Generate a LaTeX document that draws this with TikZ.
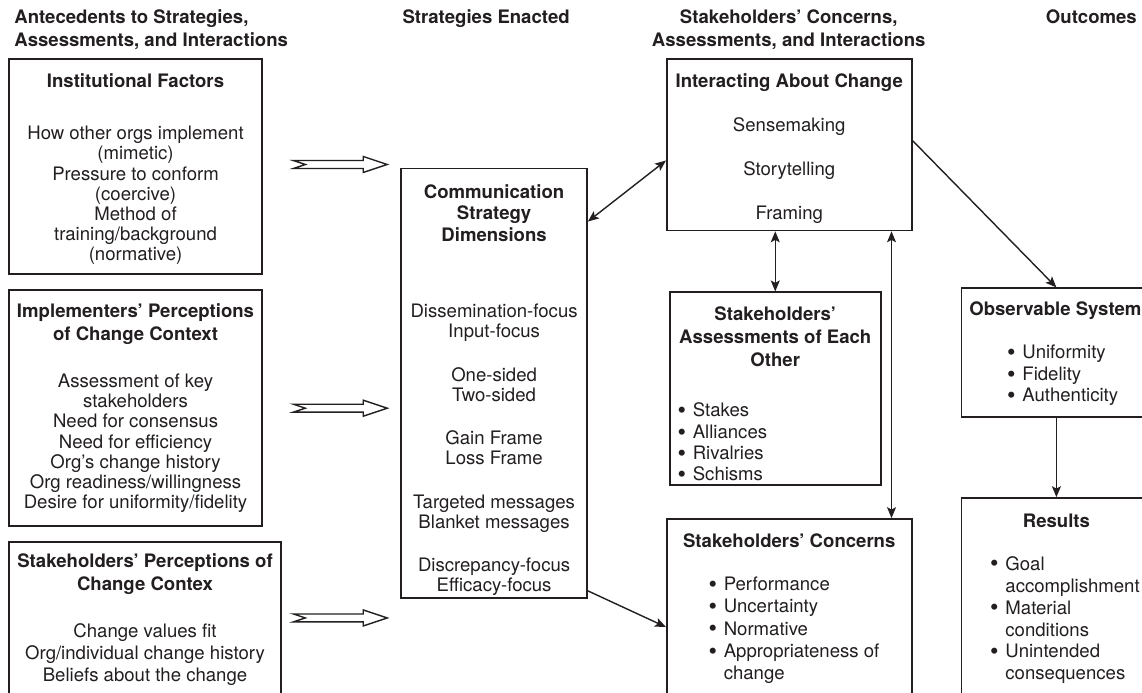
\documentclass[tikz,border=0pt]{standalone}
\usepackage{fontspec}
\setmainfont{TeX Gyre Heros}
\usetikzlibrary{arrows.meta,fit}
\definecolor{ink}{RGB}{35,31,32}
\tikzset{
  box/.style={draw=ink, line width=0.9pt, inner sep=0pt},
  ttl/.style={font=\bfseries\fontsize{9.3}{11.5}\selectfont, align=center, anchor=north, inner sep=0pt, text=ink},
  body/.style={font=\fontsize{9.3}{10.1}\selectfont, align=center, anchor=north, inner sep=0pt, text=ink},
  blist/.style={font=\fontsize{9.3}{10.7}\selectfont, anchor=north west, inner sep=0pt, text=ink},
  hollow/.style={draw=ink, line width=0.7pt, fill=white, line join=miter},
}
\newcommand{\bltlist}[1]{\begin{tabular}{@{}l@{\hspace{3.4pt}}l@{}}#1\end{tabular}}
\newcommand{\bl}{\raisebox{-0.9pt}{\scalebox{1.3}{\textbullet}}}

\begin{document}
\begin{tikzpicture}[x=0.5pt, y=-0.5pt,
  >={Stealth[length=5.5pt,width=4.5pt,inset=1.2pt]},
  every path/.style={draw=ink, line width=0.7pt}]
  \useasboundingbox (0,0) rectangle (1142,692);
  \fill[white] (0,0) rectangle (1142,692);

  % column headers
  \node[ttl, anchor=north west, align=left] (h-ante) at (13,8) {Antecedents to Strategies,\\Assessments, and Interactions};
  \node[ttl] (h-strat) at (486,8) {Strategies Enacted};
  \node[ttl] (h-conc) at (789,8) {Stakeholders' Concerns,\\Assessments, and Interactions};
  \node[ttl] (h-out) at (1092,8) {Outcomes};

  % antecedents
  \node[box, fit={(8,58) (262,274)}] (inst) {};
  \node[ttl] (inst-t) at (135,72) {Institutional Factors};
  \node[body] (inst-b) at (135,125) {How other orgs implement\\(mimetic)\\Pressure to conform\\(coercive)\\Method of\\training/background\\(normative)};

  \node[box, fit={(8,290) (262,526)}] (impl) {};
  \node[ttl] (impl-t) at (135,303) {Implementers' Perceptions\\of Change Context};
  \node[body] (impl-b) at (135,373) {Assessment of key\\stakeholders\\Need for consensus\\Need for efficiency\\Org's change history\\Org readiness/willingness\\Desire for uniformity/fidelity};

  \node[box, fit={(8,542) (281,720)}] (stkp) {};
  \node[ttl] (stkp-t) at (144.5,553) {Stakeholders' Perceptions of\\Change Contex};
  \node[body, font=\fontsize{9.3}{11}\selectfont] (stkp-b) at (144.5,623) {Change values fit\\Org/individual change history\\Beliefs about the change};

  \draw[hollow, shift={(0,164)}] (293,-4) -- (363,-4) -- (363,-8) -- (387,0) -- (363,8) -- (363,4) -- (293,4) -- (305,0) -- cycle;
  \draw[hollow, shift={(0,408)}] (293,-4) -- (363,-4) -- (363,-8) -- (387,0) -- (363,8) -- (363,4) -- (293,4) -- (305,0) -- cycle;
  \draw[hollow, shift={(0,618)}] (293,-4) -- (363,-4) -- (363,-8) -- (387,0) -- (363,8) -- (363,4) -- (293,4) -- (305,0) -- cycle;

  % strategies
  \node[box, fit={(401,168) (587,598)}] (comm) {};
  \node[ttl, font=\bfseries\fontsize{9.3}{11}\selectfont] (comm-t) at (494,183) {Communication\\Strategy\\Dimensions};
  \node[body, font=\fontsize{9.3}{10}\selectfont] (comm-b) at (494,303) {Dissemination-focus\\Input-focus\\[11.8pt]One-sided\\Two-sided\\[11.8pt]Gain Frame\\Loss Frame\\[11.8pt]Targeted messages\\Blanket messages\\[11.8pt]Discrepancy-focus\\Efficacy-focus};

  % concerns, assessments, interactions
  \node[box, fit={(667,58) (912,230)}] (inter) {};
  \node[ttl] (inter-t) at (789.5,72) {Interacting About Change};
  \node[body] (inter-b) at (789.5,116) {Sensemaking\\[11.9pt]Storytelling\\[11.9pt]Framing};

  \node[box, fit={(670,292) (881,485)}] (assess) {};
  \node[ttl] (assess-t) at (775.5,306) {Stakeholders'\\Assessments of Each\\Other};
  \node[blist] (assess-l) at (677,401) {\bltlist{\bl & Stakes\\ \bl & Alliances\\ \bl & Rivalries\\ \bl & Schisms}};

  \node[box, fit={(667,519) (912,720)}] (concern) {};
  \node[ttl] (concern-t) at (789.5,533) {Stakeholders' Concerns};
  \node[blist, font=\fontsize{9.3}{11.2}\selectfont] (concern-l) at (708,574) {\bltlist{\bl & Performance\\ \bl & Uncertainty\\ \bl & Normative\\ \bl & Appropriateness of\\ & change}};

  % outcomes
  \node[box, fit={(962,288) (1152,417)}] (observ) {};
  \node[ttl] (observ-t) at (1056,301) {Observable System};
  \node[blist] (observ-l) at (1007,343) {\bltlist{\bl & Uniformity\\ \bl & Fidelity\\ \bl & Authenticity}};

  \node[box, fit={(962,498) (1152,720)}] (results) {};
  \node[ttl] (results-t) at (1057,513) {Results};
  \node[blist, font=\fontsize{9.3}{11}\selectfont] (results-l) at (990,554) {\bltlist{\bl & Goal\\ & accomplishment\\ \bl & Material\\ & conditions\\ \bl & Unintended\\ & consequences}};

  % connectors
  \draw[<->] ([yshift=-27pt]comm.north east) -- ([yshift=-8pt]inter.west);
  \draw[<->] (assess.north) -- (assess.north |- inter.south);
  \draw[<->] ([xshift=-10.5pt]concern.north east) -- ([xshift=-10.5pt]inter.south east);
  \draw[->] ([yshift=2pt]inter.east) -- (observ.north);
  \draw[->] (observ.south) -- (results.north);
  \draw[->] ([yshift=4pt]comm.south east) -- ([yshift=-54.5pt]concern.north west);
\end{tikzpicture}
\end{document}
